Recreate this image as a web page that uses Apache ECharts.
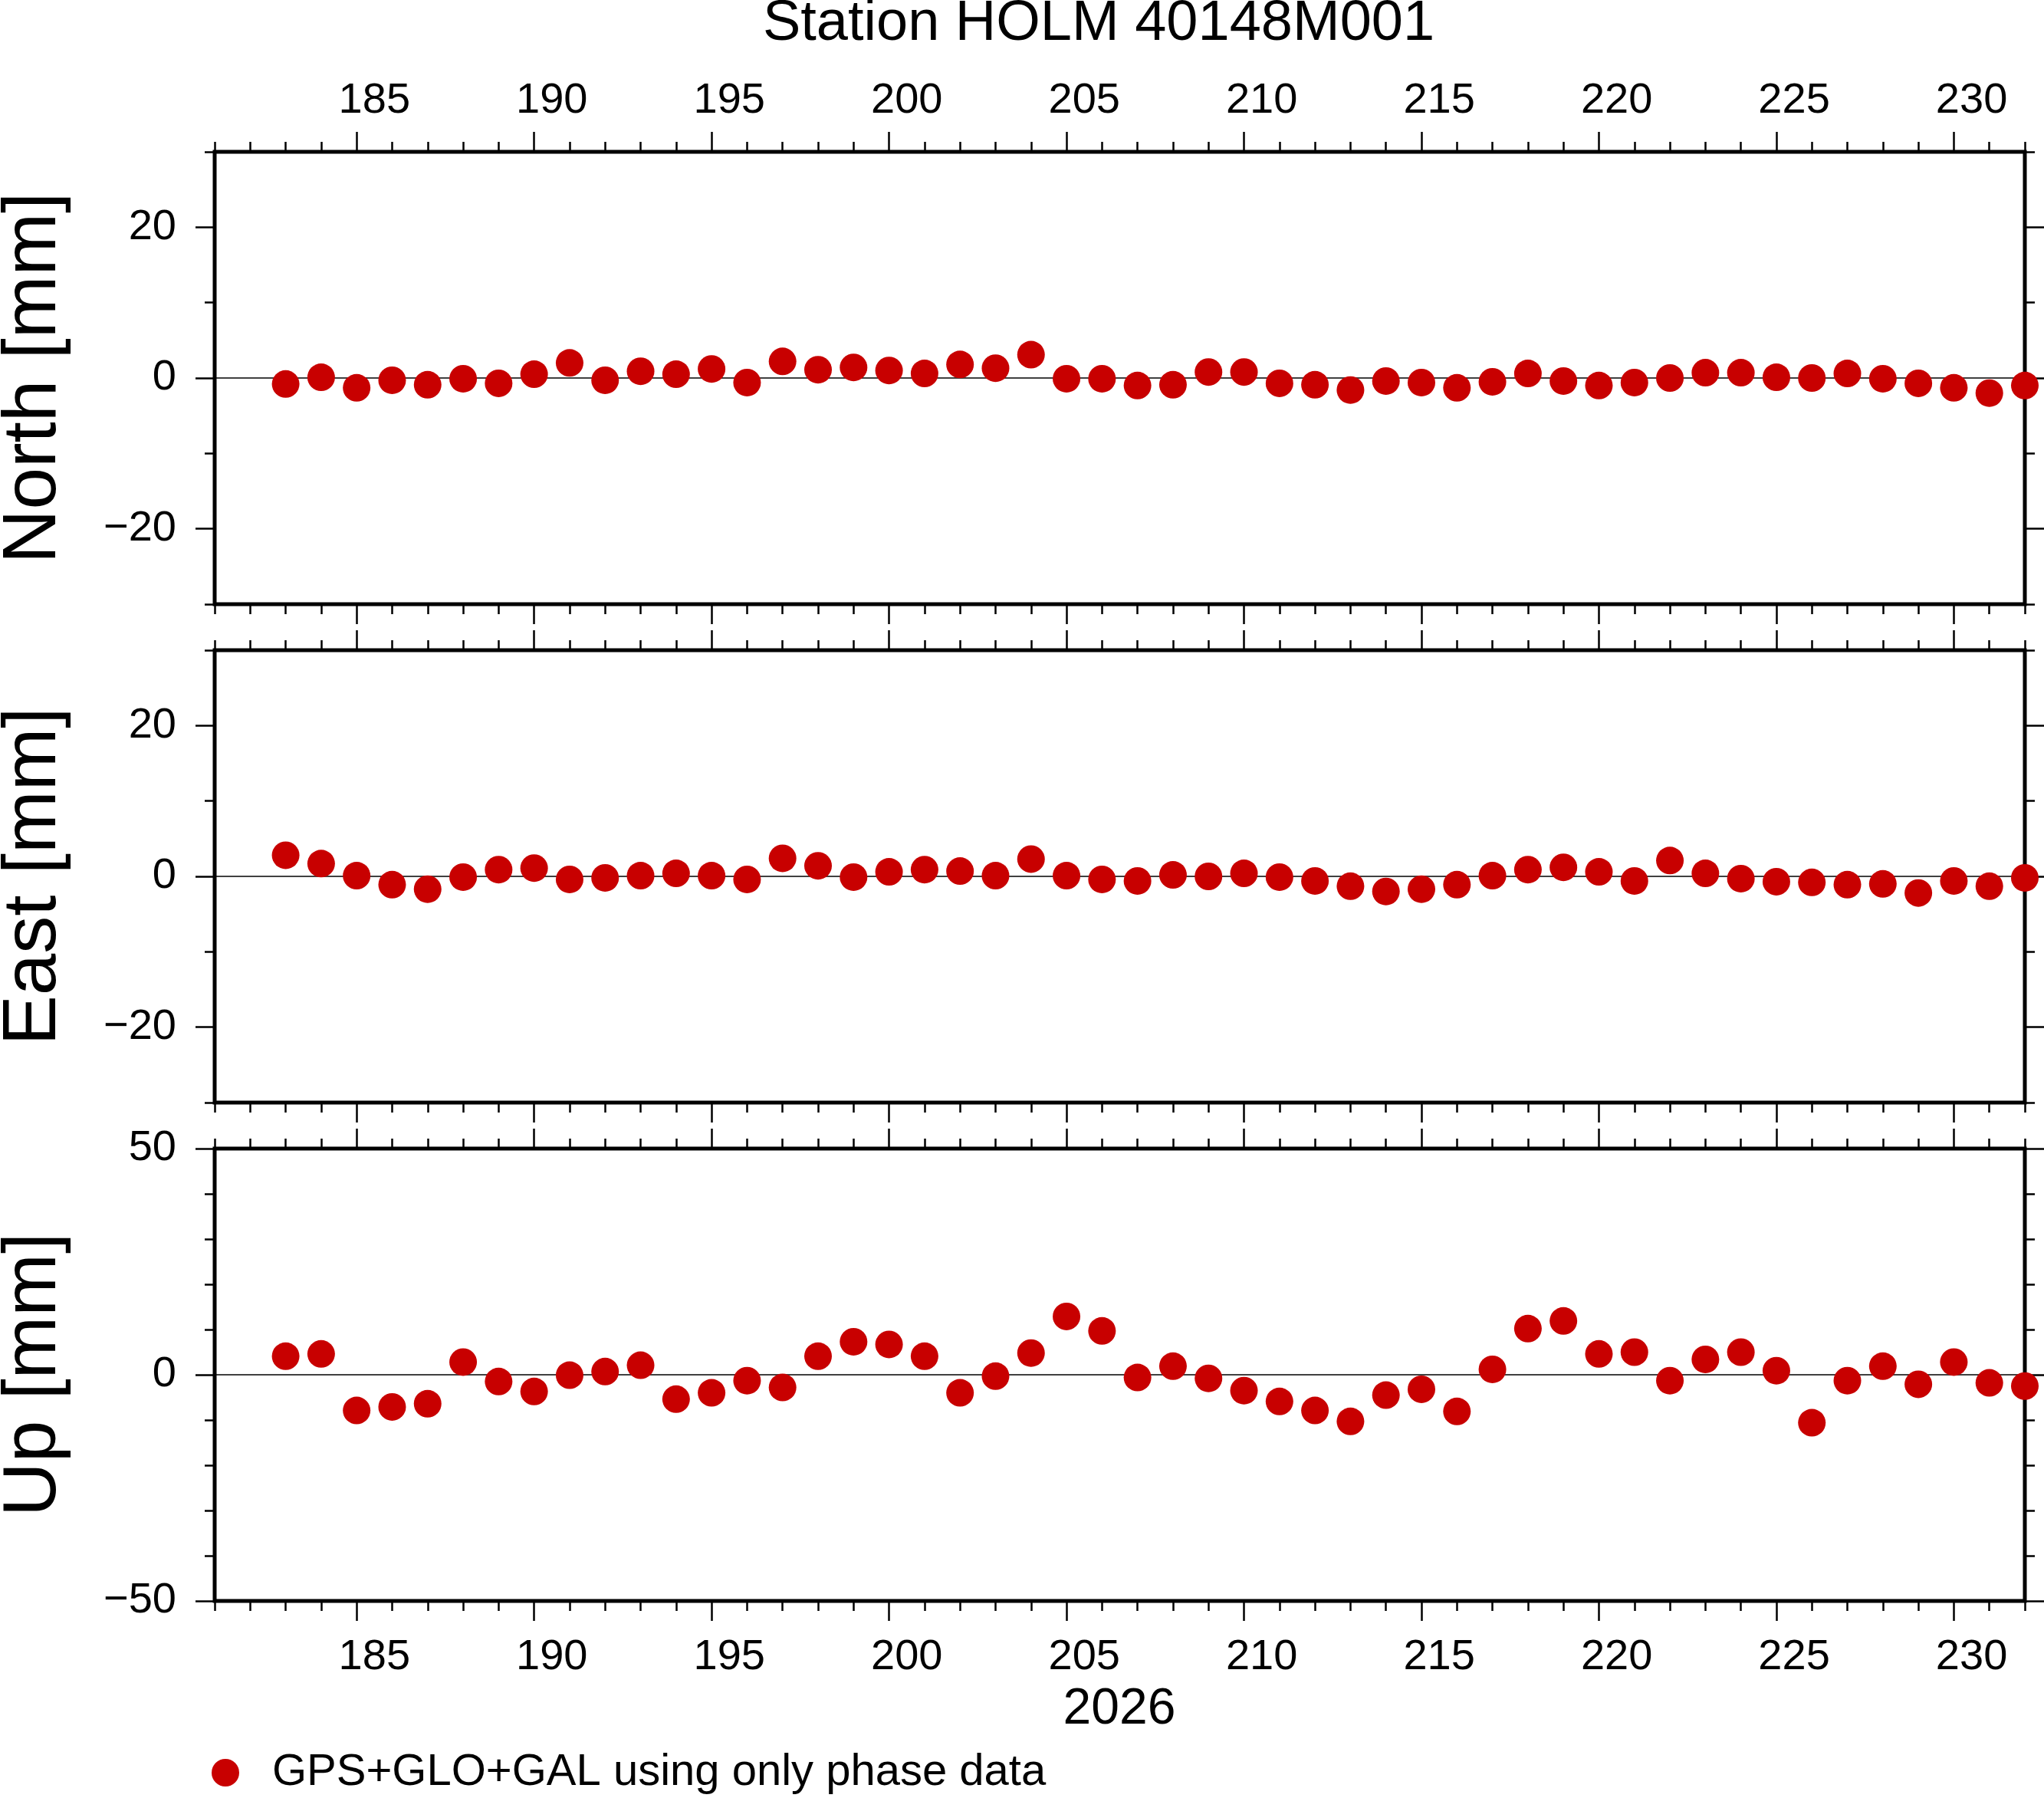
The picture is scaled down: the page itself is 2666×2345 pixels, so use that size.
<!DOCTYPE html>
<html>
<head>
<meta charset="utf-8">
<script src="https://cdn.jsdelivr.net/npm/echarts@6/dist/echarts.min.js"></script>
<style>
  html, body { margin: 0; padding: 0; background: #fff; }
  #container { width: 2666px; height: 2345px; }
</style>
</head>
<body>
<div id="container"></div>
<script>
// day of year 2026
var days = [183, 184, 185, 186, 187, 188, 189, 190, 191, 192,
            193, 194, 195, 196, 197, 198, 199, 200, 201, 202,
            203, 204, 205, 206, 207, 208, 209, 210, 211, 212,
            213, 214, 215, 216, 217, 218, 219, 220, 221, 222,
            223, 224, 225, 226, 227, 228, 229, 230, 231, 232];
// residuals in mm
var north = [-0.8, 0.1, -1.3, -0.3, -0.9, -0.1, -0.7, 0.5, 2.0, -0.3,
             0.9, 0.5, 1.2, -0.6, 2.2, 1.1, 1.4, 1.0, 0.6, 1.8,
             1.3, 3.1, -0.1, -0.1, -1.0, -0.9, 0.8, 0.8, -0.7, -0.9,
             -1.6, -0.4, -0.6, -1.3, -0.5, 0.6, -0.4, -1.0, -0.6, 0.0,
             0.7, 0.7, 0.1, 0.0, 0.6, -0.1, -0.7, -1.3, -2.0, -1.0];
var east = [2.8, 1.7, 0.1, -1.1, -1.7, -0.1, 0.9, 1.1, -0.4, -0.2,
            0.1, 0.4, 0.1, -0.4, 2.4, 1.4, -0.1, 0.6, 0.9, 0.7,
            0.1, 2.3, 0.1, -0.4, -0.6, 0.2, 0.0, 0.4, -0.1, -0.6,
            -1.3, -2.0, -1.7, -1.1, 0.1, 0.9, 1.2, 0.6, -0.6, 2.1,
            0.4, -0.3, -0.7, -0.8, -1.1, -1.0, -2.2, -0.6, -1.3, -0.2];
var up = [4.1, 4.6, -7.9, -7.1, -6.4, 2.8, -1.5, -3.7, -0.1, 0.7,
          2.1, -5.4, -4.0, -1.3, -2.8, 4.1, 7.3, 6.7, 4.1, -4.0,
          -0.3, 4.8, 12.9, 9.7, -0.6, 1.9, -0.8, -3.5, -5.9, -7.9,
          -10.3, -4.5, -3.2, -8.1, 1.2, 10.2, 11.9, 4.6, 5.0, -1.3,
          3.4, 5.0, 0.9, -10.6, -1.3, 1.9, -2.1, 2.8, -1.8, -2.5];

// tick labels
var majorDays = [185, 190, 195, 200, 205, 210, 215, 220, 225, 230];
var dayLabels = ['185', '190', '195', '200', '205', '210', '215', '220', '225', '230'];
var neTicks = [-20, 0, 20];
var neLabels = ['\u221220', '0', '20'];
var upTicks = [-50, 0, 50];
var upLabels = ['\u221250', '0', '50'];
var panelNames = ['North [mm]', 'East [mm]', 'Up [mm]'];
var seriesName = 'GPS+GLO+GAL using only phase data';

var FONT = 'Liberation Sans, Arial, Helvetica, sans-serif';
var gridTops = [198, 848, 1498];
var gridH = 590;

var dom = document.getElementById('container');
var myChart = echarts.init(dom);

function pairs(vals) {
    return days.map(function (d, i) { return [d, vals[i]]; });
}

var grids = [], xAxes = [], yAxes = [], series = [], graphics = [];
var panelData = [north, east, up];

panelData.forEach(function (vals, g) {
    grids.push({
        left: 280, right: 25, top: gridTops[g], height: gridH,
        show: true, borderColor: '#000', borderWidth: 5,
        backgroundColor: 'transparent'
    });

    // x axes: minor + major ticks on bottom and top
    ['bottom', 'top'].forEach(function (pos) {
        xAxes.push({
            gridIndex: g, type: 'value', position: pos,
            min: 181, max: 232, interval: 1,
            axisLine: {show: false, onZero: false},
            axisTick: {show: true, length: 13, lineStyle: {color: '#000', width: 2.5}},
            axisLabel: {show: false},
            splitLine: {show: false}
        });
        var showLab = (pos === 'bottom' && g === 2) || (pos === 'top' && g === 0);
        xAxes.push({
            gridIndex: g, type: 'value', position: pos,
            min: 181, max: 232, interval: 1,
            axisLine: {show: false, onZero: false},
            axisTick: {show: true, length: 26, customValues: majorDays,
                       lineStyle: {color: '#000', width: 2.5}},
            axisLabel: {
                show: showLab,
                customValues: majorDays.map(function (d) { return d + 0.5; }),
                formatter: function (v) { return dayLabels[majorDays.indexOf(v - 0.5)]; },
                margin: pos === 'bottom' ? 46 : 38,
                fontSize: 56, fontFamily: FONT, color: '#000'
            },
            splitLine: {show: false}
        });
    });

    var lim = g === 2 ? 50 : 30;
    var majT = g === 2 ? upTicks : neTicks;
    var majL = g === 2 ? upLabels : neLabels;
    ['left', 'right'].forEach(function (pos) {
        yAxes.push({
            gridIndex: g, type: 'value', position: pos,
            min: -lim, max: lim, interval: 10,
            axisLine: {show: false, onZero: false},
            axisTick: {show: true, length: 13, lineStyle: {color: '#000', width: 2.5}},
            axisLabel: {show: false},
            splitLine: {show: false}
        });
        yAxes.push({
            gridIndex: g, type: 'value', position: pos,
            min: -lim, max: lim, interval: 10,
            axisLine: {show: false, onZero: false},
            axisTick: {show: true, length: 25, customValues: majT,
                       lineStyle: {color: '#000', width: 2.5}},
            axisLabel: {
                show: pos === 'left',
                customValues: majT,
                formatter: function (v) { return majL[majT.indexOf(v)]; },
                margin: 50,
                fontSize: 56, fontFamily: FONT, color: '#000'
            },
            splitLine: {show: false}
        });
    });

    series.push({
        name: seriesName,
        type: 'scatter',
        xAxisIndex: g * 4,
        yAxisIndex: g * 4,
        symbol: 'circle',
        symbolSize: 36,
        clip: false,
        itemStyle: {color: '#c80000', opacity: 1},
        data: pairs(vals),
        markLine: {
            silent: true,
            z: 1,
            symbol: ['none', 'none'],
            label: {show: false},
            lineStyle: {color: '#000', width: 1.5, type: 'solid', opacity: 1},
            data: [{yAxis: 0}]
        }
    });

    graphics.push({
        type: 'text',
        x: 45, y: gridTops[g] + gridH / 2,
        rotation: Math.PI / 2,
        style: {
            text: panelNames[g], fill: '#000',
            font: '98px ' + FONT,
            textAlign: 'center', textVerticalAlign: 'middle'
        }
    });
});

graphics.push({
    type: 'text', x: 1433, y: 32,
    style: {text: 'Station HOLM 40148M001', fill: '#000', font: '74px ' + FONT,
            textAlign: 'center', textVerticalAlign: 'middle'}
});
graphics.push({
    type: 'text', x: 1460, y: 2230,
    style: {text: '2026', fill: '#000', font: '66px ' + FONT,
            textAlign: 'center', textVerticalAlign: 'middle'}
});

option = {
    backgroundColor: '#fff',
    animation: false,
    grid: grids,
    xAxis: xAxes,
    yAxis: yAxes,
    legend: {
        data: [seriesName],
        left: 276, top: 2283, padding: 0,
        icon: 'circle', itemWidth: 36, itemHeight: 36,
        selectedMode: false,
        itemStyle: {opacity: 1},
        textStyle: {fontSize: 58, fontFamily: FONT, color: '#000', padding: [0, 0, 0, 38]}
    },
    graphic: graphics,
    series: series
};

myChart.setOption(option);
</script>
</body>
</html>
